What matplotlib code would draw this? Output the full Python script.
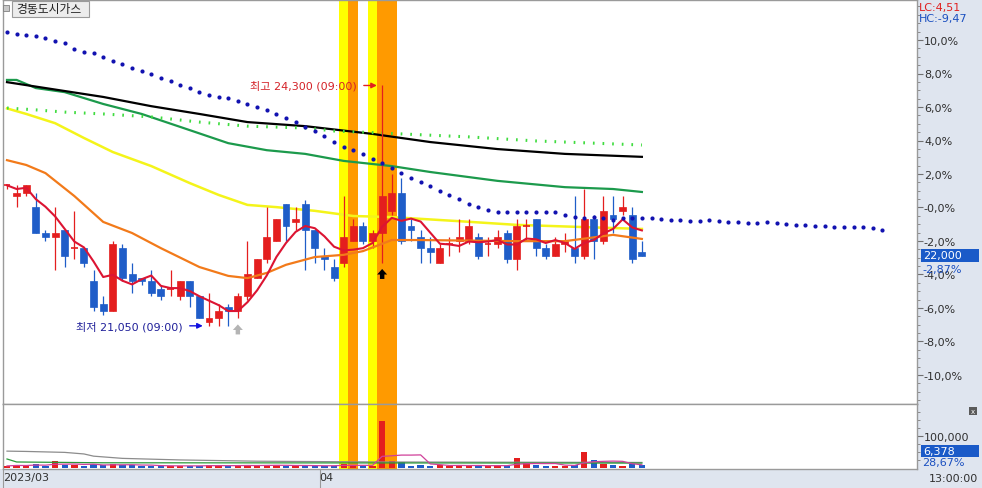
import numpy as np
import pandas as pd
import matplotlib
matplotlib.use('Agg')
import matplotlib.pyplot as plt
from matplotlib.patches import Rectangle
from matplotlib.transforms import offset_copy
from matplotlib.ticker import FixedLocator

plt.rcParams['font.family'] = ['DejaVu Sans', 'Noto Sans CJK KR']

# ---------------- data ----------------
stock_name = '경동도시가스'
base_price = 22650

opens = [22950, 22800, 22850, 22650, 22300, 22250, 22350, 22100, 22100, 21650,
         21350, 21250, 22100, 21750, 21700, 21650, 21550, 21550, 21450, 21650,
         21450, 21100, 21150, 21300, 21250, 21450, 21700, 21950, 22200, 22700,
         22450, 22700, 22350, 22000, 21850, 21900, 22200, 22400, 22200, 22300,
         22600, 22850, 22400, 22250, 22100, 21900, 22150, 22200, 22200, 22250,
         22150, 22150, 22300, 21950, 22400, 22500, 22100, 22000, 22150, 22100,
         22000, 22500, 22200, 22550, 22600, 22550, 22050]
highs = [22950, 22950, 22950, 22850, 22350, 22650, 22350, 22600, 22100, 21800,
         21450, 22200, 22150, 21900, 21700, 21800, 21600, 21800, 21650, 21650,
         21450, 21500, 21350, 21350, 21500, 22200, 21950, 22650, 22500, 22700,
         22650, 22750, 22350, 22100, 21950, 22800, 22500, 22450, 22350, 24300,
         23100, 23050, 22500, 22350, 22250, 22150, 22250, 22500, 22500, 22300,
         22250, 22350, 22350, 22500, 22500, 22500, 22150, 22250, 22300, 22800,
         22900, 22550, 22800, 22800, 22800, 22650, 22200]
lows = [22900, 22650, 22800, 22300, 22200, 21800, 21850, 21950, 21850, 21250,
        21200, 21250, 21650, 21500, 21600, 21450, 21400, 21450, 21400, 21300,
        21150, 21050, 21050, 21050, 21150, 21400, 21700, 21900, 22200, 22200,
        22350, 21800, 21900, 21800, 21650, 21850, 22200, 22150, 22100, 21900,
        22550, 22150, 22200, 21900, 21900, 21900, 22000, 22050, 22150, 21950,
        22000, 22100, 21900, 21800, 22200, 22000, 21950, 22000, 22050, 21900,
        21950, 21950, 22150, 22300, 22550, 21900, 22000]
closes = [22950, 22850, 22950, 22300, 22250, 22300, 22000, 22100, 21900, 21300,
          21250, 22150, 21700, 21650, 21650, 21500, 21450, 21550, 21650, 21450,
          21150, 21150, 21250, 21250, 21450, 21750, 21950, 22250, 22500, 22400,
          22500, 22350, 22100, 21950, 21700, 22250, 22400, 22200, 22300, 22800,
          22850, 22200, 22350, 22100, 22050, 22100, 22150, 22250, 22400, 22000,
          22150, 22250, 21950, 22400, 22400, 22100, 22000, 22150, 22200, 22000,
          22500, 22200, 22600, 22500, 22650, 21950, 22000]
volumes = [5000, 8000, 6000, 12000, 6000, 20000, 9000, 8000, 6000, 10000,
           7000, 12000, 8000, 7000, 5000, 6000, 4000, 5000, 6000, 5000,
           6000, 7000, 6000, 5000, 6000, 8000, 6000, 8000, 7000, 6000,
           5000, 6000, 6000, 5000, 6000, 11000, 7000, 5000, 6000, 148000,
           20000, 18000, 5000, 9000, 5000, 8000, 5000, 6000, 7000, 6000,
           5000, 6000, 5000, 30000, 14000, 8000, 5000, 6000, 5000, 9000,
           48000, 24000, 12000, 9000, 5000, 10000, 6378]

# signal highlights
yellow_band_idx = [35, 38]
orange_band_idx = [36, 39, 40]
gray_arrow_idx = [24]
black_arrow_idx = [39]

# long moving averages (candle index, price)
orange_ma_idx = [0, 2, 4, 7, 10, 13, 16, 20, 23, 25, 27, 29, 32, 35, 37, 40, 43, 53, 58, 63, 66]
orange_ma = [23290, 23225, 23115, 22805, 22455, 22305, 22100, 21845, 21725, 21695, 21765,
             21875, 21980, 22010, 22060, 22210, 22210, 22195, 22195, 22280, 22225]
yellow_ma_idx = [0, 2, 5, 8, 11, 15, 19, 22, 25, 28, 32, 36, 40, 47, 53, 60, 66]
yellow_ma = [23990, 23915, 23790, 23590, 23400, 23210, 22980, 22820, 22685, 22655,
             22605, 22535, 22520, 22465, 22415, 22385, 22360]
green_ma_idx = [0, 1, 3, 6, 10, 14, 18, 23, 27, 31, 35, 40, 44, 51, 58, 63, 66]
green_ma = [24375, 24375, 24265, 24210, 24050, 23915, 23740, 23520, 23425, 23375,
            23280, 23210, 23130, 23010, 22925, 22900, 22860]
black_ma_idx = [0, 4, 10, 15, 20, 25, 31, 38, 44, 51, 58, 66]
black_ma = [24345, 24265, 24145, 24020, 23915, 23805, 23750, 23645, 23535, 23440, 23375, 23335]
lime_ma_idx = [0, 3, 6, 10, 15, 20, 25, 31, 34, 41, 48, 55, 66]
lime_ma = [23995, 23970, 23940, 23915, 23875, 23805, 23750, 23725, 23685, 23645,
           23605, 23550, 23495]
blue_dots = [25020, 25000, 24980, 24970, 24940, 24900, 24870, 24790, 24750, 24740,
             24680, 24630, 24590, 24540, 24500, 24450, 24400, 24360, 24310, 24270,
             24210, 24170, 24140, 24130, 24090, 24050, 24010, 23970, 23910, 23860,
             23810, 23740, 23680, 23620, 23540, 23470, 23430, 23370, 23310, 23250,
             23180, 23120, 23050, 23000, 22940, 22870, 22820, 22760, 22700, 22660,
             22620, 22590, 22590, 22590, 22590, 22590, 22590, 22590, 22550, 22520,
             22510, 22520, 22510, 22480, 22510, 22510, 22510, 22510, 22490, 22480,
             22480, 22470, 22470, 22480, 22470, 22450, 22450, 22440, 22440, 22450,
             22440, 22430, 22410, 22410, 22400, 22400, 22390, 22390, 22390, 22390,
             22370, 22350]

# volume moving averages
vol_gray_idx = [0, 2, 6, 8, 9, 12, 18, 26, 39, 66]
vol_gray = [52000, 51000, 48000, 43000, 36000, 29000, 24000, 20000, 17500, 16000]
vol_green_idx = [0, 1, 10, 66]
vol_green = [27000, 17500, 15000, 14000]

pct_ticks = [10, 8, 6, 4, 2, 0, -2, -4, -6, -8, -10]
pct_labels = ['10,0%', '8,0%', '6,0%', '4,0%', '2,0%', '-0,0%', '-2,0%', '-4,0%',
              '-6,0%', '-8,0%', '-10,0%']
x_labels = ['2023/03', '04']
x_label_pos = [-0.41, 32.5]

high_text = '최고 24,300 (09:00)'
low_text = '최저 21,050 (09:00)'
high_idx, high_val = 39, 24300
low_idx, low_val = 21, 21050

# ---------------- styling ----------------
RED = '#e41e1e'
BLUE = '#1f5dc8'
STRIP = '#dfe5ef'
GRID = '#9a9a9a'
W, H = 982, 489


def fx(px):
    return px / W


def fy(py):
    return 1 - py / H


fig = plt.figure(figsize=(W / 100, H / 100), dpi=100)
fig.patch.set_facecolor('white')
fig.add_artist(Rectangle((fx(917), 0), 1 - fx(917), 1, transform=fig.transFigure,
                         facecolor=STRIP, edgecolor='none', zorder=0))
fig.add_artist(Rectangle((0, 0), 1, fy(470), transform=fig.transFigure,
                         facecolor=STRIP, edgecolor='none', zorder=0))

ax = fig.add_axes([fx(3), fy(405), fx(917) - fx(3), fy(1) - fy(405)])
axv = fig.add_axes([fx(3), fy(470), fx(917) - fx(3), fy(405) - fy(470)])

n = len(closes)
x = np.arange(n)
xlim = (-0.416, 94.6)

# pixel mapping of the percent axis: 0% at pixel 208.5, 16.75 px per 1%
pct_top = (208.5 - 1) / 16.75
pct_bot = (208.5 - 405) / 16.75
ax.set_xlim(*xlim)
ax.set_ylim(base_price * (1 + pct_bot / 100), base_price * (1 + pct_top / 100))

# highlight bands
for i in yellow_band_idx:
    for a in (ax, axv):
        a.axvspan(i - 0.5, i + 0.5, color='#ffff00', lw=0, zorder=0)
for i in orange_band_idx:
    for a in (ax, axv):
        a.axvspan(i - 0.5, i + 0.5, color='#ff9a00', lw=0, zorder=0)

# long MAs
ax.plot(yellow_ma_idx, yellow_ma, color='#f4f41a', lw=1.8, zorder=2)
ax.plot(green_ma_idx, green_ma, color='#1c9a4c', lw=1.6, zorder=2)
ax.plot(black_ma_idx, black_ma, color='#000000', lw=1.6, zorder=2)
ax.plot(lime_ma_idx, lime_ma, color='#3fdc3f', lw=2.2, ls=(0, (0.55, 2.6)), zorder=2)

# candles
cols = [RED if c >= o else BLUE for o, c in zip(opens, closes)]
ax.vlines(x, lows, highs, colors=cols, lw=0.9, zorder=3)
bw = 0.72
for i in range(n):
    o, c = opens[i], closes[i]
    if o == c:
        ax.hlines(o, i - bw / 2, i + bw / 2, colors=cols[i], lw=1.2, zorder=4)
    else:
        ax.add_patch(Rectangle((i - bw / 2, min(o, c)), bw, abs(c - o),
                               facecolor=cols[i], edgecolor=cols[i], lw=0.5, zorder=4))

ma5 = pd.Series(closes).rolling(5, min_periods=1).mean()
ax.plot(x, pd.Series(orange_ma, index=orange_ma_idx).reindex(range(n)).values * np.nan, alpha=0)
ax.plot(orange_ma_idx, orange_ma, color='#f27a1a', lw=1.6, zorder=5)
ax.plot(x, ma5, color='#dc1432', lw=1.5, zorder=5)
ax.plot(np.arange(len(blue_dots)), blue_dots, ls='none', marker='o', ms=3.0,
        color='#1212b0', mec='none', zorder=6)

# annotations
ax.annotate(high_text, xy=(high_idx - 0.55, high_val), xytext=(-20, 0),
            textcoords='offset pixels', ha='right', va='center', color='#d42228',
            fontsize=8, arrowprops=dict(arrowstyle='-|>', color='#e02020', lw=1,
                                        shrinkA=3, shrinkB=0, mutation_scale=8))
ax.annotate(low_text, xy=(low_idx - 0.65, low_val), xytext=(-20, 0),
            textcoords='offset pixels', ha='right', va='center', color='#20209a',
            fontsize=8, arrowprops=dict(arrowstyle='-|>', color='#1010e0', lw=1,
                                        shrinkA=3, shrinkB=0, mutation_scale=8))
for idx_list, colr in ((gray_arrow_idx, '#b4b4b4'), (black_arrow_idx, '#000000')):
    for i in idx_list:
        tr = offset_copy(ax.transData, fig=fig, x=0, y=-6, units='dots')
        ax.annotate('', xy=(i, lows[i]), xycoords=tr, xytext=(0, -10),
                    textcoords='offset pixels',
                    arrowprops=dict(arrowstyle='simple,head_length=0.5,head_width=0.9,tail_width=0.4',
                                    fc=colr, ec='none', mutation_scale=8, shrinkA=0, shrinkB=0))

# axes style
for a in (ax, axv):
    a.set_facecolor('white')
    for s in a.spines.values():
        s.set_color(GRID)
        s.set_linewidth(1)
    a.yaxis.tick_right()
    a.tick_params(axis='y', which='major', direction='out', length=4, width=0.8,
                  color='#707070', labelsize=8, labelcolor='#303030', pad=1)
    a.tick_params(axis='y', which='minor', direction='out', length=2.2, width=0.7,
                  color='#8a8a8a')
ax.set_yticks([base_price * (1 + p / 100) for p in pct_ticks])
ax.set_yticklabels(pct_labels)
ax.yaxis.set_minor_locator(FixedLocator(
    [base_price * (1 + p / 100) for p in np.arange(-11.5, 12.01, 0.5)]))
ax.tick_params(axis='x', length=0, labelbottom=False)

# volume panel
vol_px = 3175.0
axv.set_xlim(*xlim)
axv.set_ylim(-1.5 * vol_px, 63.5 * vol_px)
axv.bar(x, volumes, width=0.66, color=cols, zorder=3)
axv.plot(vol_gray_idx, vol_gray, color='#8c8c8c', lw=0.9, zorder=4)
axv.plot(vol_green_idx, vol_green, color='#2a9a3a', lw=0.9, zorder=4)
axv.plot(x, pd.Series(volumes).rolling(5, min_periods=1).mean(), color='#d0409a',
         lw=0.9, zorder=4)
axv.set_yticks([100000])
axv.set_yticklabels(['100,000'])
axv.yaxis.set_minor_locator(FixedLocator([25000, 50000, 75000, 125000, 150000, 175000]))
axv.set_xticks(x_label_pos)
axv.set_xticklabels(x_labels)
axv.tick_params(axis='x', direction='out', length=13.5, width=0.8, color='#9a9a9a',
                labelsize=8, labelcolor='#303030', pad=-11.2)
for lbl in axv.get_xticklabels():
    lbl.set_ha('left')

# right strip texts
fig.text(fx(919), fy(7.5), 'LC:4,51', color='#e02020', fontsize=8, va='center')
fig.text(fx(919), fy(19), 'HC:-9,47', color='#1a4fc0', fontsize=8, va='center')
fig.add_artist(Rectangle((fx(921), fy(263)), fx(979) - fx(921), fy(250) - fy(263),
                         transform=fig.transFigure, facecolor='#1a5ac8', edgecolor='none', zorder=5))
fig.text(fx(923), fy(256.5), '22,000', color='white', fontsize=8, va='center', zorder=6)
fig.text(fx(922), fy(269.5), '-2,87%', color='#1a4fc0', fontsize=8, va='center', zorder=6)
fig.add_artist(Rectangle((fx(921), fy(458)), fx(979) - fx(921), fy(446) - fy(458),
                         transform=fig.transFigure, facecolor='#1a5ac8', edgecolor='none', zorder=5))
fig.text(fx(923), fy(452), '6,378', color='white', fontsize=8, va='center', zorder=6)
fig.text(fx(922), fy(463.5), '28,67%', color='#1a4fc0', fontsize=8, va='center', zorder=6)
fig.text(fx(929), fy(479), '13:00:00', color='#303030', fontsize=8, va='center')
fig.add_artist(Rectangle((fx(969), fy(416)), fx(977) - fx(969), fy(408) - fy(416),
                         transform=fig.transFigure, facecolor='#5a5a5a', edgecolor='none', zorder=5))
fig.text(fx(973), fy(412), 'x', color='white', fontsize=5, ha='center', va='center', zorder=6)

# title box
fig.add_artist(Rectangle((fx(3), fy(12)), fx(9) - fx(3), fy(6) - fy(12), transform=fig.transFigure,
                         facecolor='#c8c8c8', edgecolor='#808080', lw=0.6, zorder=5))
fig.add_artist(Rectangle((fx(12), fy(18)), fx(89) - fx(12), fy(2) - fy(18), transform=fig.transFigure,
                         facecolor='#ececec', edgecolor='#9a9a9a', lw=0.8, zorder=5))
fig.text(fx(16), fy(10), stock_name, color='#202020', fontsize=8.5, va='center', zorder=6)

fig.savefig('out.png', dpi=100)
